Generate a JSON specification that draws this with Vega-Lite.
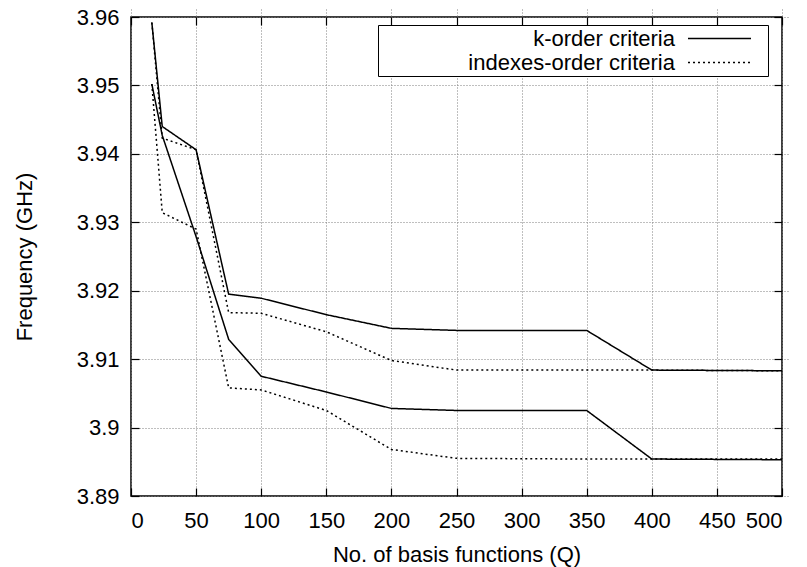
{
  "$schema": "https://vega.github.io/schema/vega-lite/v6.json",
  "width": 651,
  "height": 479,
  "autosize": {"type": "none"},
  "padding": {"left": 131, "top": 17, "right": 25, "bottom": 71},
  "background": "white",
  "config": {
    "view": {"stroke": "black", "strokeWidth": 1.5},
    "font": "Liberation Sans",
    "axis": {
      "labelFont": "Liberation Sans",
      "titleFont": "Liberation Sans",
      "labelFontSize": 22,
      "titleFontSize": 22,
      "labelColor": "black",
      "titleColor": "black",
      "titleFontWeight": "normal",
      "domain": false,
      "tickColor": "black",
      "tickWidth": 1.2,
      "tickSize": 8,
      "offset": -8,
      "gridColor": "#7f7f7f",
      "gridDash": [1, 2],
      "gridWidth": 1,
      "gridOpacity": 1
    }
  },
  "data": {
    "values": [
      {"criteria": "k-order criteria", "series": "A", "Q": 16, "f": 3.9592},
      {"criteria": "k-order criteria", "series": "A", "Q": 24, "f": 3.9440},
      {"criteria": "k-order criteria", "series": "A", "Q": 50, "f": 3.9406},
      {"criteria": "k-order criteria", "series": "A", "Q": 75, "f": 3.9195},
      {"criteria": "k-order criteria", "series": "A", "Q": 100, "f": 3.9189},
      {"criteria": "k-order criteria", "series": "A", "Q": 150, "f": 3.9165},
      {"criteria": "k-order criteria", "series": "A", "Q": 200, "f": 3.9145},
      {"criteria": "k-order criteria", "series": "A", "Q": 250, "f": 3.9142},
      {"criteria": "k-order criteria", "series": "A", "Q": 350, "f": 3.9142},
      {"criteria": "k-order criteria", "series": "A", "Q": 400, "f": 3.9084},
      {"criteria": "k-order criteria", "series": "A", "Q": 500, "f": 3.9083},
      {"criteria": "indexes-order criteria", "series": "B", "Q": 16, "f": 3.9592},
      {"criteria": "indexes-order criteria", "series": "B", "Q": 24, "f": 3.9423},
      {"criteria": "indexes-order criteria", "series": "B", "Q": 50, "f": 3.9406},
      {"criteria": "indexes-order criteria", "series": "B", "Q": 75, "f": 3.9168},
      {"criteria": "indexes-order criteria", "series": "B", "Q": 100, "f": 3.9167},
      {"criteria": "indexes-order criteria", "series": "B", "Q": 150, "f": 3.9140},
      {"criteria": "indexes-order criteria", "series": "B", "Q": 200, "f": 3.9098},
      {"criteria": "indexes-order criteria", "series": "B", "Q": 250, "f": 3.9084},
      {"criteria": "indexes-order criteria", "series": "B", "Q": 350, "f": 3.9084},
      {"criteria": "indexes-order criteria", "series": "B", "Q": 400, "f": 3.9084},
      {"criteria": "indexes-order criteria", "series": "B", "Q": 500, "f": 3.9083},
      {"criteria": "k-order criteria", "series": "C", "Q": 16, "f": 3.9502},
      {"criteria": "k-order criteria", "series": "C", "Q": 24, "f": 3.9427},
      {"criteria": "k-order criteria", "series": "C", "Q": 50, "f": 3.9279},
      {"criteria": "k-order criteria", "series": "C", "Q": 75, "f": 3.9129},
      {"criteria": "k-order criteria", "series": "C", "Q": 100, "f": 3.9075},
      {"criteria": "k-order criteria", "series": "C", "Q": 150, "f": 3.9052},
      {"criteria": "k-order criteria", "series": "C", "Q": 200, "f": 3.9028},
      {"criteria": "k-order criteria", "series": "C", "Q": 250, "f": 3.9025},
      {"criteria": "k-order criteria", "series": "C", "Q": 350, "f": 3.9025},
      {"criteria": "k-order criteria", "series": "C", "Q": 400, "f": 3.8954},
      {"criteria": "k-order criteria", "series": "C", "Q": 500, "f": 3.8953},
      {"criteria": "indexes-order criteria", "series": "D", "Q": 16, "f": 3.9502},
      {"criteria": "indexes-order criteria", "series": "D", "Q": 24, "f": 3.9314},
      {"criteria": "indexes-order criteria", "series": "D", "Q": 50, "f": 3.9290},
      {"criteria": "indexes-order criteria", "series": "D", "Q": 75, "f": 3.9058},
      {"criteria": "indexes-order criteria", "series": "D", "Q": 100, "f": 3.9055},
      {"criteria": "indexes-order criteria", "series": "D", "Q": 150, "f": 3.9025},
      {"criteria": "indexes-order criteria", "series": "D", "Q": 200, "f": 3.8968},
      {"criteria": "indexes-order criteria", "series": "D", "Q": 250, "f": 3.8955},
      {"criteria": "indexes-order criteria", "series": "D", "Q": 350, "f": 3.8954},
      {"criteria": "indexes-order criteria", "series": "D", "Q": 400, "f": 3.8954},
      {"criteria": "indexes-order criteria", "series": "D", "Q": 500, "f": 3.8954}
    ]
  },
  "layer": [
    {
      "mark": {"type": "line", "color": "black", "strokeWidth": 1.5},
      "encoding": {
        "x": {
          "field": "Q", "type": "quantitative",
          "scale": {"domain": [0, 500], "nice": false},
          "axis": {
            "title": "No. of basis functions (Q)",
            "values": [0, 50, 100, 150, 200, 250, 300, 350, 400, 450, 500],
            "format": "d", "grid": true, "labelPadding": 14, "titlePadding": 13
          }
        },
        "y": {
          "field": "f", "type": "quantitative",
          "scale": {"domain": [3.89, 3.96], "nice": false, "zero": false},
          "axis": {
            "title": "Frequency (GHz)",
            "values": [3.89, 3.9, 3.91, 3.92, 3.93, 3.94, 3.95, 3.96],
            "format": ".2~f", "grid": true, "labelPadding": 12, "titlePadding": 40
          }
        },
        "strokeDash": {
          "field": "criteria", "type": "nominal",
          "scale": {"domain": ["k-order criteria", "indexes-order criteria"], "range": [[1, 0], [2, 3]]},
          "legend": {
            "orient": "none", "legendX": 247, "legendY": 8, "title": null,
            "symbolType": "M-3,0H3M4.05,0H4.05", "symbolSize": 441, "symbolStrokeWidth": 1.5,
            "symbolStrokeColor": "black", "symbolOffset": 328,
            "labelAlign": "right", "labelOffset": -56, "labelFontSize": 22,
            "labelFont": "Liberation Sans", "labelColor": "black", "labelLimit": 400,
            "strokeColor": "black", "padding": 2, "rowPadding": 1, "fillColor": "white"
          }
        },
        "detail": {"field": "series"}
      }
    },
    {
      "mark": {"type": "line", "opacity": 0},
      "encoding": {
        "x": {
          "field": "Q", "type": "quantitative",
          "axis": {"orient": "top", "title": null, "labels": false, "grid": false,
                   "values": [0, 50, 100, 150, 200, 250, 300, 350, 400, 450, 500]}
        },
        "y": {
          "field": "f", "type": "quantitative",
          "axis": {"orient": "right", "title": null, "labels": false, "grid": false,
                   "values": [3.89, 3.9, 3.91, 3.92, 3.93, 3.94, 3.95, 3.96]}
        },
        "detail": {"field": "series"}
      }
    }
  ],
  "resolve": {"axis": {"x": "independent", "y": "independent"}}
}
